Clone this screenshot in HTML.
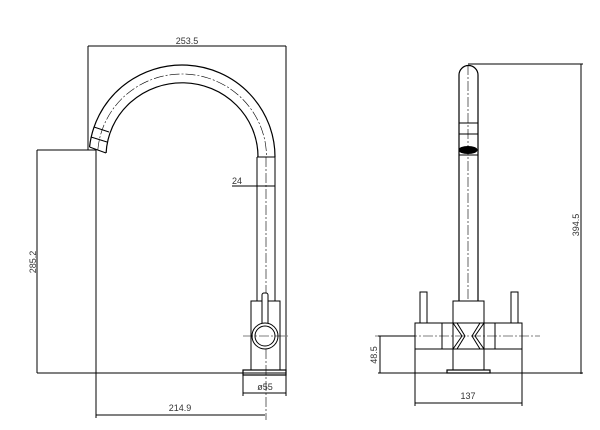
<!DOCTYPE html>
<html><head><style>body{margin:0;background:#fff}svg{display:block}text{font-family:"Liberation Sans",sans-serif;font-size:9px;fill:#333}</style></head><body>
<svg width="600" height="430" viewBox="0 0 600 430" fill="none" stroke="#000" stroke-width="1">
<!-- left view -->
<path d="M88 46H286M88 46V150M286 46V395"/>
<text x="187" y="44" text-anchor="middle" stroke="none">253.5</text>
<path d="M89.55 147 A93 92 0 0 1 275 157 M106.1 153 A76 74 0 0 1 258 157" stroke-width="1.2"/>
<path d="M97.8 150 A84.5 83 0 0 1 266.5 157" stroke-dasharray="10 2 2 2" stroke-width="0.6"/>
<path d="M89.5 147L106 153M91 137L107 142M94 127L109 132"/>
<path d="M257 157V301M275 157V301M257 157H275"/>
<path d="M266 157V420" stroke-dasharray="10 2 2 2" stroke-width="0.6"/>
<path d="M232 186H275"/><text x="232" y="184" stroke="none">24</text>
<path d="M37 150H96M37 150V373M96 150V418"/>
<text transform="translate(36,262) rotate(-90)" text-anchor="middle" stroke="none">285.2</text>
<path d="M37 373H286"/>
<rect x="251" y="301" width="29" height="69"/>
<rect x="262" y="293" width="6" height="33" rx="2" fill="#fff"/>
<circle cx="265" cy="336" r="13" fill="#fff"/><circle cx="265" cy="336" r="10"/>
<path d="M243 336H288" stroke-dasharray="10 2 2 2" stroke-width="0.6"/>
<rect x="243" y="370" width="43" height="5" stroke-width="1.2"/>
<path d="M243 375V396M286 375V396M243 393H286"/>
<text x="265" y="390" text-anchor="middle" stroke="none">ø55</text>
<path d="M96 415H265"/><text x="180" y="411" text-anchor="middle" stroke="none">214.9</text>
<!-- right view -->
<path d="M459 301V75A9.5 9.5 0 0 1 478 75V301" stroke-width="1.2"/>
<path d="M468 65V373" stroke-dasharray="10 2 2 2" stroke-width="0.6"/>
<path d="M459 123H478M459 134H478M459 155H478"/>
<ellipse cx="468" cy="150" rx="9" ry="3.5" fill="#000"/>
<path d="M468 64H583M581 64V374"/>
<text transform="translate(579,225) rotate(-90)" text-anchor="middle" stroke="none">394.5</text>
<rect x="453" y="301" width="31" height="69" fill="#fff"/>
<path d="M415 323H522V349H415Z M442 323V349 M495 323V349"/>
<path d="M453 323L462 336L453 349M484 323L475 336L484 349M457 323L465 336L457 349M480 323L472 336L480 349"/>
<rect x="420" y="292" width="7" height="31" fill="#fff"/><rect x="511" y="292" width="7" height="31" fill="#fff"/>
<path d="M415 349V406M522 349V406M415 403H522"/>
<text x="468" y="399" text-anchor="middle" stroke="none">137</text>
<rect x="447" y="370" width="43" height="3" fill="#fff" stroke-width="1.2"/>
<path d="M375 336H540" stroke-dasharray="10 2 2 2" stroke-width="0.6"/>
<path d="M378 336H415M380 336V373M378 373H583"/>
<text transform="translate(377,355) rotate(-90)" text-anchor="middle" stroke="none">48.5</text>
</svg>
</body></html>
